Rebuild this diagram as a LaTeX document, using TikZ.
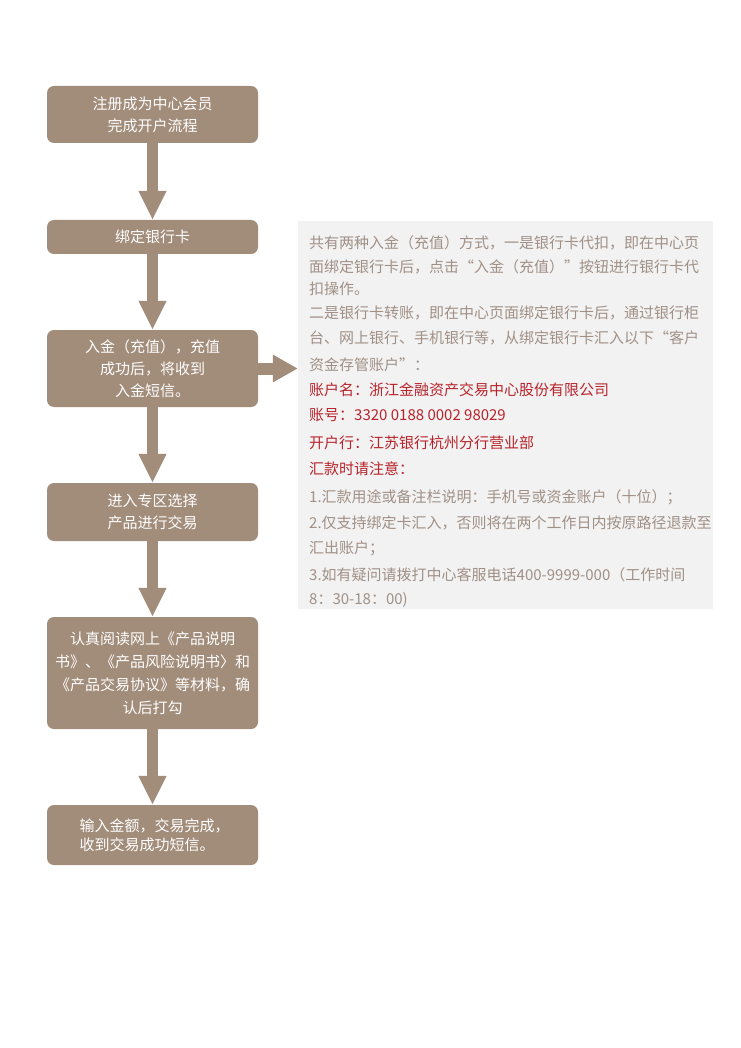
\documentclass[tikz,border=0pt]{standalone}
\usepackage{fontspec}
\setmainfont{Noto Sans CJK SC}
\usetikzlibrary{arrows.meta}
\definecolor{boxc}{HTML}{A28C7A}
\definecolor{panelc}{HTML}{F2F2F2}
\definecolor{greytxt}{HTML}{A09086}
\definecolor{redtxt}{HTML}{B8232B}
\tikzset{
  stepbox/.style={fill=boxc, rounded corners=7pt, text=white, align=center, inner sep=0pt,
    minimum width=211pt, font=\fontsize{15}{22}\selectfont},
  flowarr/.style={draw=boxc, line width=11pt, -{Triangle[width=26pt,length=29pt]}},
  sidearr/.style={draw=boxc, line width=12pt, -{Triangle[width=26pt,length=25pt]}},
  ptxt/.style={anchor=west, inner sep=0pt, text=greytxt, font=\fontsize{15}{15}\selectfont},
  rtxt/.style={ptxt, text=redtxt},
}
\begin{document}
\begin{tikzpicture}[x=1pt,y=-1pt]
\useasboundingbox (0,0) rectangle (740,1048);
\fill[white] (0,0) rectangle (740,1048);
% panel
\node[fill=panelc, inner sep=0pt, minimum width=415pt, minimum height=388pt] (panel) at (505.5,415) {};
% boxes
\node[stepbox, minimum height=57pt] (b1) at (152.5,114.5) {注册成为中心会员\\完成开户流程};
\node[stepbox, minimum height=34pt] (b2) at (152.5,237) {绑定银行卡};
\node[stepbox, minimum height=77pt] (b3) at (152.5,368.5) {入金（充值），充值\\成功后，将收到\\入金短信。};
\node[stepbox, minimum height=58pt] (b4) at (152.5,512) {进入专区选择\\产品进行交易};
\node[stepbox, minimum height=112pt, font=\fontsize{15}{23}\selectfont] (b5) at (152.5,673) {认真阅读网上《产品说明\\书》、《产品风险说明书〉和\\《产品交易协议》等材料，确\\认后打勾};
\node[stepbox, minimum height=60pt, font=\fontsize{15}{19}\selectfont, align=left] (b6) at (152.5,835) {\hspace*{4pt}输入金额，交易完成，\\\hspace*{4pt}收到交易成功短信。};
% arrows
\draw[flowarr] (b1.south) -- (b2.north);
\draw[flowarr] (b2.south) -- (b3.north);
\draw[flowarr] (b3.south) -- (b4.north);
\draw[flowarr] (b4.south) -- (b5.north);
\draw[flowarr] (b5.south) -- (b6.north);
\draw[sidearr] (b3.east) -- (b3.east -| panel.west);
% panel text
\node[ptxt] (t1) at (309,243) {共有两种入金（充值）方式，一是银行卡代扣，即在中心页};
\node[ptxt] (t2) at (309,267) {面绑定银行卡后，点击“入金（充值）”按钮进行银行卡代};
\node[ptxt] (t3) at (309,289) {扣操作。};
\node[ptxt] (t4) at (309,313) {二是银行卡转账，即在中心页面绑定银行卡后，通过银行柜};
\node[ptxt] (t5) at (309,338) {台、网上银行、手机银行等，从绑定银行卡汇入以下“客户};
\node[ptxt] (t6) at (309,365) {资金存管账户”：};
\node[rtxt] (t7) at (309,390) {账户名：浙江金融资产交易中心股份有限公司};
\node[rtxt] (t8) at (309,415) {账号：3320 0188 0002 98029};
\node[rtxt] (t9) at (309,443) {开户行：江苏银行杭州分行营业部};
\node[rtxt] (t10) at (309,469) {汇款时请注意：};
\node[ptxt] (t11) at (309,497) {1.汇款用途或备注栏说明：手机号或资金账户（十位）；};
\node[ptxt] (t12) at (309,523) {2.仅支持绑定卡汇入，否则将在两个工作日内按原路径退款至};
\node[ptxt] (t13) at (309,548) {汇出账户；};
\node[ptxt] (t14) at (309,575) {3.如有疑问请拨打中心客服电话400-9999-000（工作时间};
\node[ptxt] (t15) at (309,600) {8：30-18：00)};
\end{tikzpicture}
\end{document}
